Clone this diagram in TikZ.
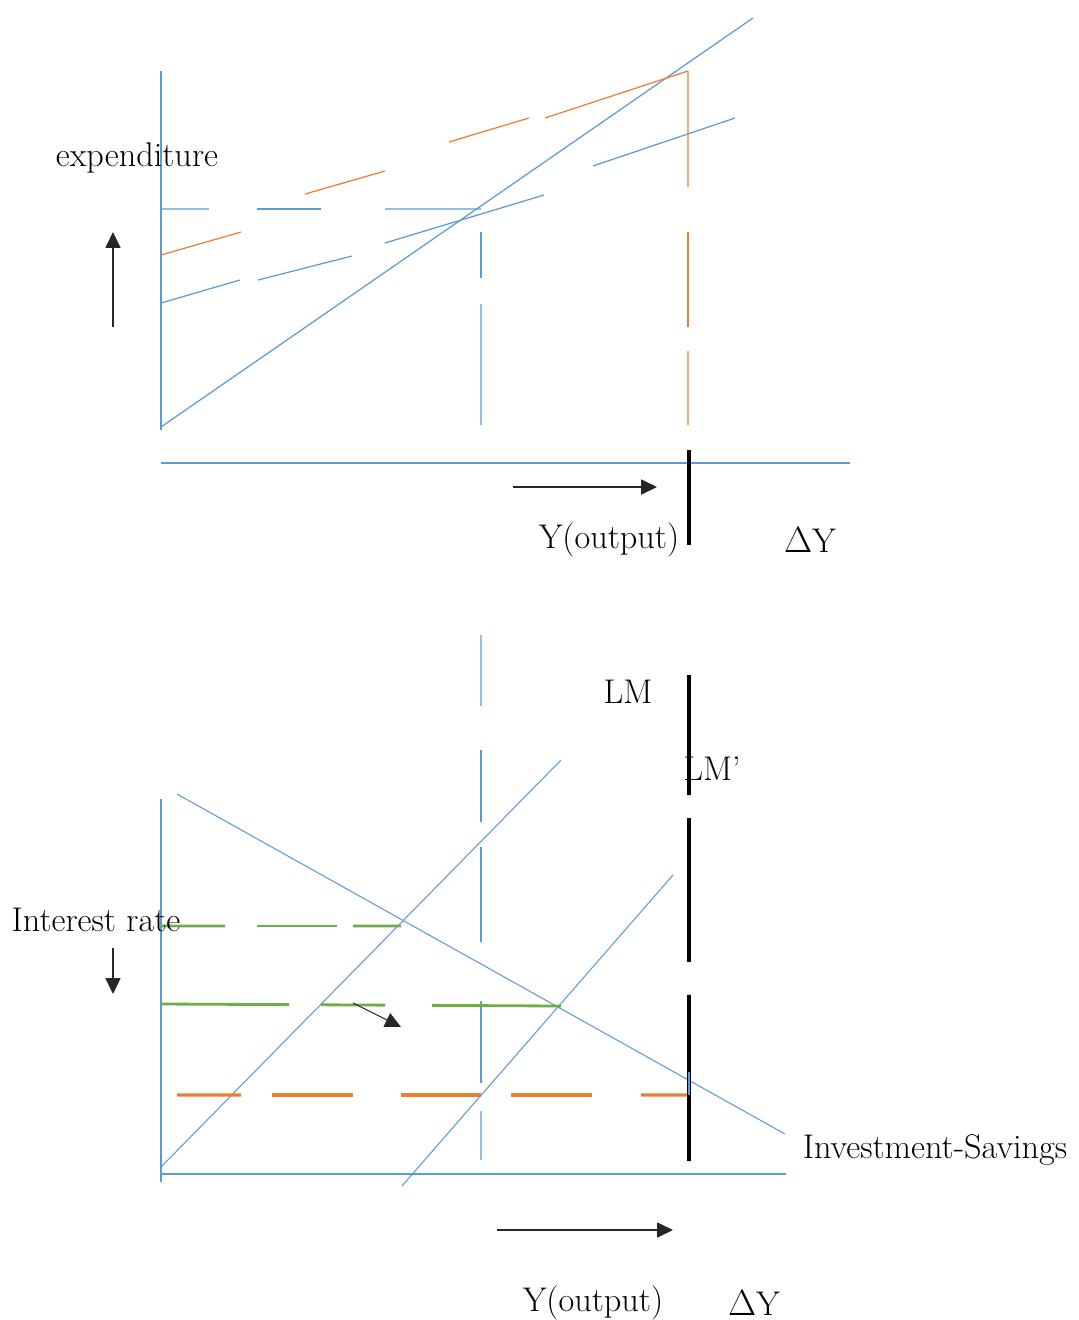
\documentclass[tikz,border=0pt]{standalone}
\usetikzlibrary{calc, arrows.meta}
\definecolor{ablue}{HTML}{5B9BD5}
\definecolor{aorange}{HTML}{ED7D31}
\definecolor{agreen}{HTML}{70AD47}
% broken line between two named points, pieces given as fractions
\newcommand{\dashseg}[4][]{\foreach \s/\e in {#4} \draw[#1] ($(#2)!\s!(#3)$) -- ($(#2)!\e!(#3)$);}

\begin{document}
\begin{tikzpicture}[
    x=0.02cm, y=-0.02cm,
    every node/.style={font=\fontsize{19.5}{23}\selectfont, inner sep=0pt},
    bl/.style={draw=ablue, line width=0.7pt},
    blthin/.style={draw=ablue, line width=0.6pt},
    orn/.style={draw=aorange, line width=0.7pt},
    ornthick/.style={draw=aorange, line width=1.8pt},
    grn/.style={draw=agreen, line width=1.6pt},
    lmbar/.style={draw=black, line width=2.2pt},
    shiftarr/.style={draw=black!85, line width=0.75pt, -{Triangle[length=9pt,width=8.5pt]}}
  ]
  \useasboundingbox (0,0) rectangle (1079,1320);

  % expenditure diagram
  \coordinate (ytop) at (161,71);
  \coordinate (ybot) at (161,430);
  \coordinate (xl) at (161,463);
  \coordinate (xr) at (850,463);
  \coordinate (za) at (161,427);
  \coordinate (zb) at (753,18);
  \coordinate (aed) at (688,71);
  \coordinate (aee) at (688,425);
  \coordinate (eqy) at (161,209);
  \coordinate (eq) at (481,209);
  \coordinate (eqd) at (481,425);

  \draw[bl] (ytop) -- (ybot);
  \draw[bl] (xl) -- (xr);
  \draw[bl] (za) -- (zb);
  % old and new planned expenditure, broken as drawn
  \foreach \xa/\ya/\xb/\yb in {161/303/240/280, 258/280/352/256, 385/243/544/195, 593/166/735/118}
    \draw[bl] (\xa,\ya) -- (\xb,\yb);
  \foreach \xa/\ya/\xb/\yb in {161/255/241/232, 305/194/385/171, 449/142/529/118, 545/118/688/71}
    \draw[orn] (\xa,\ya) -- (\xb,\yb);
  \dashseg[orn]{aed}{aee}{0/0.328, 0.455/0.723, 0.791/1}
  \dashseg[bl]{eqy}{eq}{0/0.15, 0.3/0.5, 0.7/1}
  \dashseg[bl]{eq}{eqd}{0.106/0.319, 0.44/1}

  \coordinate (dyt) at (689,450);
  \coordinate (dyb) at (689,545);
  \draw[lmbar] (dyt) -- (dyb);
  \coordinate (ya) at (513,487);
  \coordinate (yb) at (657,487);
  \draw[shiftarr] (ya) -- (yb);
  \coordinate (ua) at (113,327);
  \coordinate (ub) at (113,232);
  \draw[shiftarr] (ua) -- (ub);

  \node (expl) at (137,158) {expenditure};
  \node (yout) at (609,540) {Y(output)};
  \node (dyl) at (810,540) {$\Delta$Y};

  % IS-LM diagram
  \coordinate (iytop) at (161,799);
  \coordinate (iybot) at (161,1182);
  \coordinate (ixl) at (161,1174);
  \coordinate (ixr) at (786,1174);
  \coordinate (lma) at (161,1167);
  \coordinate (lmb) at (561,760);
  \coordinate (lmc) at (402,1186);
  \coordinate (lmd) at (673,875);
  \coordinate (isa) at (177,794);
  \coordinate (isb) at (785,1134);
  \coordinate (vt) at (481,635);
  \coordinate (vb) at (481,1160);

  \draw[blthin] (iytop) -- (iybot);
  \draw[blthin] (ixl) -- (ixr);
  \draw[blthin] (lma) -- (lmb);
  \draw[blthin] (lmc) -- (lmd);
  \draw[blthin] (isa) -- (isb);
  \dashseg[blthin]{vt}{vb}{0/0.135, 0.219/0.356, 0.404/0.585, 0.697/0.853, 0.907/1}

  \coordinate (ria) at (161,926);
  \coordinate (rib) at (401,926);
  \coordinate (ric) at (161,1004);
  \coordinate (rid) at (561,1006);
  \coordinate (roa) at (177,1095);
  \coordinate (rob) at (689,1095);
  \dashseg[grn]{ria}{rib}{0/0.267, 0.4/0.733, 0.8/1}
  \dashseg[grn]{ric}{rid}{0/0.32, 0.4/0.56, 0.678/1}
  \dashseg[ornthick]{roa}{rob}{0/0.125, 0.186/0.344, 0.438/0.594, 0.652/0.811, 0.906/1}

  \coordinate (lmt) at (689,675);
  \coordinate (lmbt) at (689,1161);
  \dashseg[lmbar]{lmt}{lmbt}{0/0.247, 0.294/0.591, 0.658/1}
  \coordinate (tka) at (689,1072);
  \draw[bl, line width=1pt] (tka) -- (rob);

  \coordinate (sa) at (353,1003);
  \coordinate (sb) at (401,1027);
  \draw[shiftarr, line width=0.6pt] (sa) -- (sb);
  \coordinate (da) at (113,948);
  \coordinate (db) at (113,994);
  \draw[shiftarr] (da) -- (db);
  \coordinate (ra) at (497,1230);
  \coordinate (rb) at (673,1230);
  \draw[shiftarr] (ra) -- (rb);

  \node (lml) at (628,692) {LM};
  \node (lmpl) at (712,769) {LM’};
  \node (irl) at (96,920) {Interest rate};
  \node (isl) at (935,1150) {Investment-Savings};
  \node (yout2) at (593,1303) {Y(output)};
  \node (dyl2) at (754,1303) {$\Delta$Y};
\end{tikzpicture}
\end{document}
